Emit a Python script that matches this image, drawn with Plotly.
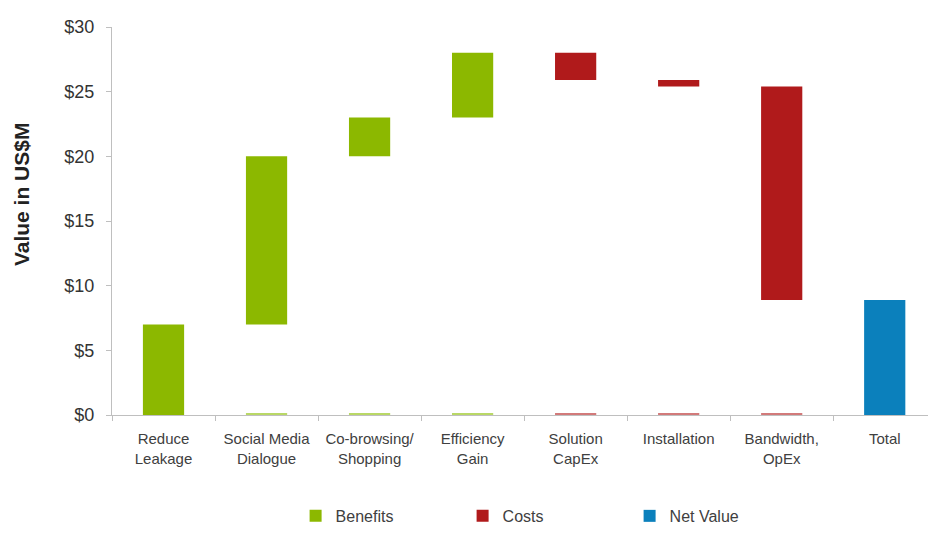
import plotly.graph_objects as go
import numpy as np

categories = ["Reduce<br>Leakage", "Social Media<br>Dialogue", "Co-browsing/<br>Shopping",
              "Efficiency<br>Gain", "Solution<br>CapEx", "Installation",
              "Bandwidth,<br>OpEx", "Total"]
benefit_cats = categories[0:4]
benefit_values = [7.0, 13.0, 3.0, 5.0]
cost_cats = categories[4:7]
cost_values = [-2.1, -0.5, -16.5]
total_value = [8.9]
y_ticks = [0, 5, 10, 15, 20, 25, 30]
y_tick_labels = ["$0", "$5", "$10", "$15", "$20", "$25", "$30"]
y_title = "Value in US$M"

GREEN = "#8CB800"
RED = "#B01A1B"
BLUE = "#0B80BC"

benefit_base = list(np.concatenate([[0], np.cumsum(benefit_values)[:-1]]))
top = float(np.sum(benefit_values))
cost_base = list(top + np.concatenate([[0], np.cumsum(cost_values)[:-1]]))

fig = go.Figure()
# thin baseline stubs under floating bars
stub_cats = categories[1:7]
stub_colors = ["#B9D866"] * 3 + ["#D27A7A"] * 3
fig.add_trace(go.Bar(x=stub_cats, y=[0.15] * len(stub_cats), base=0, width=0.4,
                     marker=dict(color=stub_colors, line=dict(width=0)),
                     showlegend=False, hoverinfo="skip"))
fig.add_trace(go.Bar(name="Benefits", x=benefit_cats, y=benefit_values, base=benefit_base,
                     width=0.4, marker=dict(color=GREEN, line=dict(width=0))))
fig.add_trace(go.Bar(name="Costs", x=cost_cats, y=cost_values, base=cost_base,
                     width=0.4, marker=dict(color=RED, line=dict(width=0))))
fig.add_trace(go.Bar(name="Net Value", x=categories[7:], y=total_value, base=[0],
                     width=0.4, marker=dict(color=BLUE, line=dict(width=0))))

fig.update_layout(
    width=928, height=533,
    margin=dict(l=112, r=0, t=27, b=118),
    plot_bgcolor="white", paper_bgcolor="white",
    barmode="overlay",
    font=dict(family="Liberation Sans, Arial, sans-serif", color="#404040", size=16),
    xaxis=dict(categoryorder="array", categoryarray=categories, automargin=False,
               tickangle=0, ticklabelstandoff=10,
               range=[-0.5, 7.42], showgrid=False, showline=True, linecolor="#BFBFBF",
               linewidth=1, ticks="outside", tickson="boundaries", ticklen=5,
               tickcolor="#BFBFBF", tickfont=dict(size=15, color="#404040")),
    yaxis=dict(range=[0, 30], tickvals=y_ticks, ticktext=y_tick_labels, automargin=False,
               ticklabelstandoff=8,
               showgrid=False, showline=True, linecolor="#BFBFBF", linewidth=1,
               ticks="outside", ticklen=5, tickcolor="#BFBFBF",
               tickfont=dict(size=18, color="#333333"), zeroline=False),
    legend=dict(orientation="h", x=0.225, xanchor="left", y=-0.304, yanchor="bottom",
                font=dict(size=16, color="#404040"), entrywidth=122, itemsizing="constant"),
    bargap=0.6,
    annotations=[dict(text="<b>" + y_title + "</b>", textangle=-90, showarrow=False,
                      xref="paper", yref="paper", x=-0.11, y=0.57,
                      xanchor="center", yanchor="middle",
                      font=dict(size=21, color="#222222"))],
)

fig.write_html("out.html")
